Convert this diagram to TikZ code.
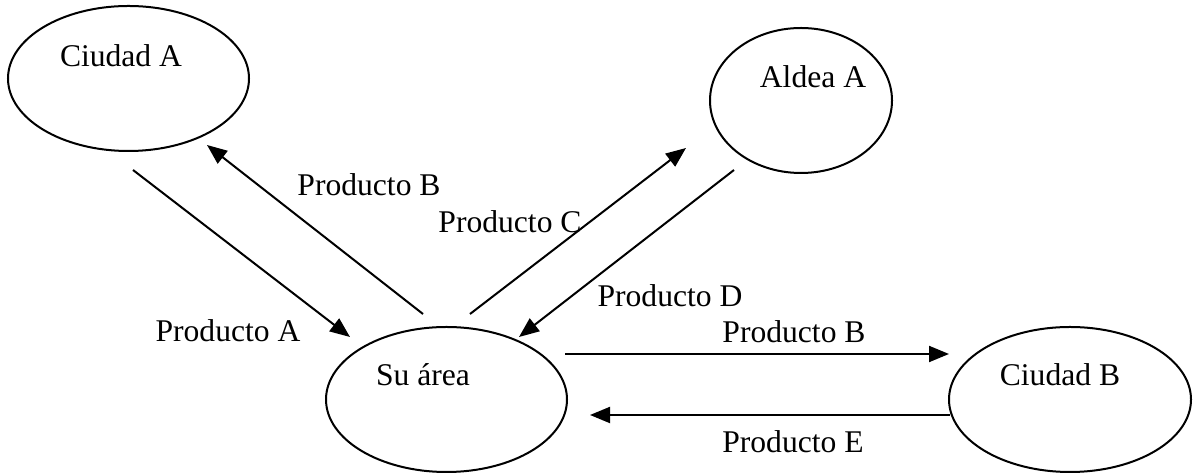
\documentclass[tikz,border=0pt]{standalone}
\usepackage{fontspec}
\setmainfont{Liberation Serif}
\usetikzlibrary{shapes.geometric,arrows.meta}
\begin{document}
\begin{tikzpicture}[x=0.5pt,y=-0.5pt,
  place/.style={draw,ellipse,line width=1pt,inner sep=0pt},
  lbl/.style={anchor=base,inner sep=0pt,font=\fontsize{15.8}{19}\selectfont},
  flow/.style={line width=1pt,-{Triangle[length=10pt,width=8pt]}}]
\useasboundingbox (0,0) rectangle (1194,474);

% places
\node[place,minimum width=120.5pt,minimum height=72.5pt] (ca) at (128.5,78.5) {};
\node[place,minimum width=91pt,minimum height=72.5pt] (aa) at (801,100.5) {};
\node[place,minimum width=120.5pt,minimum height=72.5pt] (su) at (446.5,399.5) {};
\node[place,minimum width=121pt,minimum height=72.5pt] (cb) at (1070,399.5) {};

\node[lbl] (tca) at (121,67) {Ciudad A};
\node[lbl] (taa) at (813,88) {Aldea A};
\node[lbl] (tsu) at (423,386) {Su área};
\node[lbl] (tcb) at (1060,386) {Ciudad B};

% connector end points
\coordinate (p1) at (133,170);  \coordinate (q1) at (350,337);
\coordinate (p2) at (423,314);  \coordinate (q2) at (207,145);
\coordinate (p3) at (470,314);  \coordinate (q3) at (686,148);
\coordinate (p4) at (734,170);  \coordinate (q4) at (519,337);
\coordinate (p5) at (565,354);  \coordinate (q5) at (949,354);
\coordinate (p6) at (950,415);  \coordinate (q6) at (590,415);

\draw[flow] (p1) -- (q1);
\draw[flow] (p2) -- (q2);
\draw[flow] (p3) -- (q3);
\draw[flow] (p4) -- (q4);
\draw[flow] (p5) -- (q5);
\draw[flow] (p6) -- (q6);

% product labels
\node[lbl] (la) at (228,342) {Producto A};
\node[lbl] (lb1) at (369,196) {Producto B};
\node[lbl] (lc) at (510,233) {Producto C};
\node[lbl] (ld) at (670,307) {Producto D};
\node[lbl] (lb2) at (794,343) {Producto B};
\node[lbl] (le) at (793,453) {Producto E};
\end{tikzpicture}
\end{document}
